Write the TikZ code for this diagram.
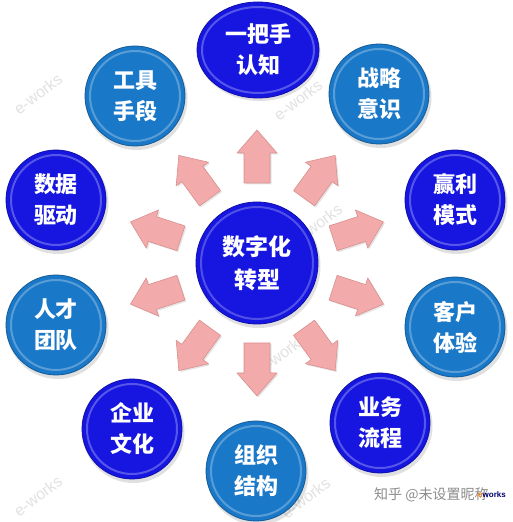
\documentclass[tikz,border=0pt]{standalone}
\usepackage{fontspec}
\newfontfamily\cjk{Noto Sans CJK SC}
\newfontfamily\wmfont{Liberation Sans}
\usetikzlibrary{shapes.geometric,calc}
\definecolor{dkblue}{HTML}{1616E0}
\definecolor{ltblue}{HTML}{1A78C8}
\definecolor{pinkfill}{HTML}{F2AAAA}
\definecolor{pinkedge}{HTML}{D99090}
\definecolor{wmgray}{HTML}{E2E2E2}
\newcommand\mybubble[5]{%
  \fill[black, opacity=0.12] (#2+1.5,#3-3) circle (51pt);
  \node[ball=#4] (#1) at (#2,#3) {#5};
  \draw[white, opacity=0.28, line width=2pt] (#1.center) circle (45pt);
}
\begin{document}
\begin{tikzpicture}[x=1pt,y=1pt,
  ball/.style={circle, minimum size=100pt, inner sep=0pt, text=white, align=center,
    font=\cjk\bfseries\fontsize{22}{31}\selectfont, draw=#1!75!black, line width=0.8pt, fill=#1},
  wm/.style={text=wmgray, font=\wmfont\fontsize{16}{16}\selectfont, rotate=38},
  blockarrow/.style={fill=pinkfill, draw=pinkedge, line width=0.6pt, line join=round},
  arrowshadow/.style={fill=black, opacity=0.10},
]
\useasboundingbox (0,0) rectangle (513,522);
\fill[white] (0,0) rectangle (513,522);

% watermarks
\node[wm] (w1) at (38,428) {e-works};
\node[wm] (w2) at (318,298) {e-works};
\node[wm] (w3) at (282,168) {e-works};
\node[wm] (w4) at (306,24) {e-works};
\node[wm] (w5) at (38,26) {e-works};
\node[wm] (w6) at (298,422) {e-works};

\coordinate (C) at (257,259);

% block arrows
\foreach \a in {90,54,18,-18,-54,-90,-126,-162,162,126}{
  \fill[arrowshadow, shift={(C)}, shift={(1.5,-1.5)}, rotate=\a, shift={(106,0)}]
    (-26,-13) -- (4,-13) -- (4,-20) -- (27,0) -- (4,20) -- (4,13) -- (-26,13) -- cycle;
  \draw[blockarrow, shift={(C)}, rotate=\a, shift={(106,0)}]
    (-26,-13) -- (4,-13) -- (4,-20) -- (27,0) -- (4,20) -- (4,13) -- (-26,13) -- cycle;
}

% top ellipse
\fill[black, opacity=0.12] (259.5,469) ellipse (61pt and 48pt);
\node[ball=dkblue, ellipse, minimum width=122pt, minimum height=96pt] (b1) at (258,472) {一把手\\认知};
\draw[white, opacity=0.28, line width=2pt] (b1.center) ellipse (56pt and 43pt);

\mybubble{b2}{379}{428}{ltblue}{战略\\意识}
\mybubble{b3}{455}{322}{dkblue}{赢利\\模式}
\mybubble{b4}{455}{195}{ltblue}{客户\\体验}
\mybubble{b5}{380}{99}{dkblue}{业务\\流程}
\mybubble{b6}{256}{51}{ltblue}{组织\\结构}
\mybubble{b7}{132}{93}{dkblue}{企业\\文化}
\mybubble{b8}{56}{197}{ltblue}{人才\\团队}
\mybubble{b9}{56}{322}{dkblue}{数据\\驱动}
\mybubble{b10}{135}{426}{ltblue}{工具\\手段}

% centre
\fill[black, opacity=0.12] (258.5,256) circle (62pt);
\node[ball=dkblue, minimum size=122pt, font=\cjk\bfseries\fontsize{23}{33}\selectfont] (core) at (C) {数字化\\转型};
\draw[white, opacity=0.25, line width=2pt] (core.center) circle (56pt);

% footer
\node[anchor=west, inner sep=0pt, text=black!45, font=\cjk\fontsize{14}{14}\selectfont] (zh) at (374,27) {知乎 @未设置昵称};
\node[inner sep=0pt, text=blue!45!black, font=\wmfont\bfseries\fontsize{8}{8}\selectfont] (logo) at (492,27) {\textcolor{orange}{e}works};
\end{tikzpicture}
\end{document}
